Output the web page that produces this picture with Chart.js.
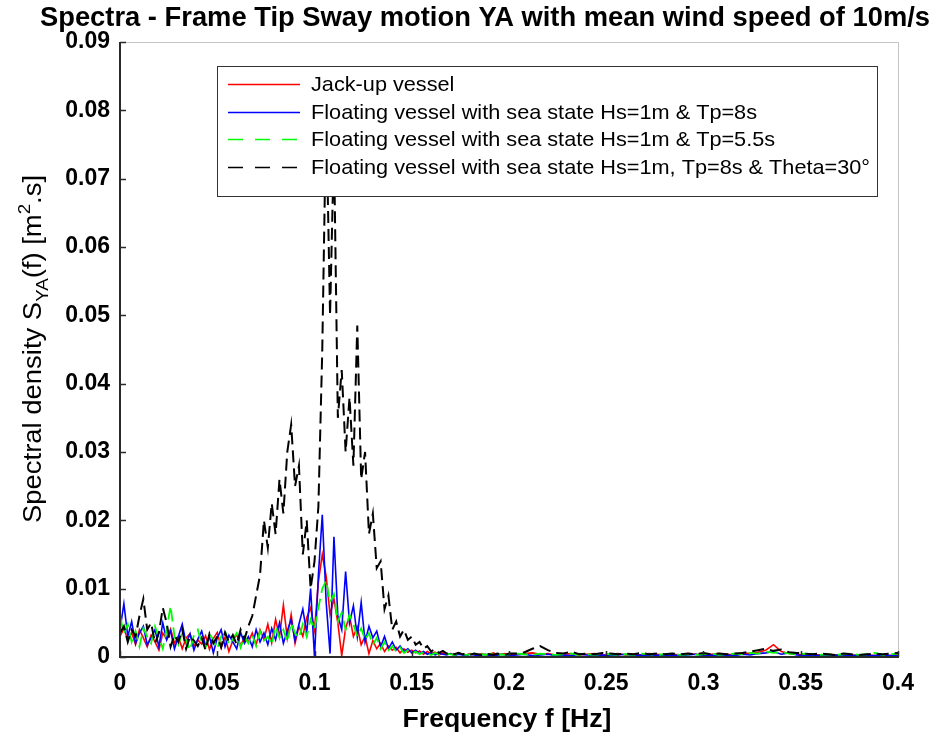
<!DOCTYPE html>
<html><head><meta charset="utf-8">
<script src="https://cdn.jsdelivr.net/npm/chart.js@4/dist/chart.umd.min.js"></script>
<style>html,body{margin:0;padding:0;background:#fff;}canvas{display:block;}</style>
</head><body>
<canvas id="c" width="934" height="740"></canvas>
<script>
const TITLE = "Spectra - Frame Tip Sway motion YA with mean wind speed of 10m/s";
const X_TITLE = "Frequency f [Hz]";
const SERIES_LABELS = [
  "Jack-up vessel",
  "Floating vessel with sea state Hs=1m & Tp=8s",
  "Floating vessel with sea state Hs=1m & Tp=5.5s",
  "Floating vessel with sea state Hs=1m, Tp=8s & Theta=30\u00B0"
];
const X_TICKS = [0,0.05,0.1,0.15,0.2,0.25,0.3,0.35,0.4];
const X_TICK_LABELS = ["0","0.05","0.1","0.15","0.2","0.25","0.3","0.35","0.4"];
const Y_TICKS = [0,0.01,0.02,0.03,0.04,0.05,0.06,0.07,0.08,0.09];
const Y_TICK_LABELS = ["0","0.01","0.02","0.03","0.04","0.05","0.06","0.07","0.08","0.09"];

const FREQ = [
0,0.002,0.004,0.006,0.008,0.010,0.012,0.014,0.016,0.018,
0.020,0.022,0.024,0.026,0.028,0.030,0.032,0.034,0.036,0.038,
0.040,0.042,0.044,0.046,0.048,0.050,0.052,0.054,0.056,0.058,
0.060,0.062,0.064,0.066,0.068,0.070,0.072,0.074,0.076,0.078,
0.080,0.082,0.084,0.086,0.088,0.090,0.092,0.094,0.096,0.098,
0.100,0.102,0.104,0.106,0.108,0.110,0.112,0.114,0.116,0.118,
0.120,0.122,0.124,0.126,0.128,0.130,0.132,0.134,0.136,0.138,
0.140,0.142,0.144,0.146,0.148,0.150,0.152,0.154,0.156,0.158,
0.160,0.162,0.164,0.166,0.168,0.170,0.172,0.174,0.176,0.178,
0.180,0.182,0.184,0.186,0.188,0.190,0.192,0.194,0.196,0.198,
0.200,
0.204,0.208,0.212,0.216,0.220,0.224,0.228,0.232,0.236,0.240,
0.244,0.248,0.252,0.256,0.260,0.264,0.268,0.272,0.276,0.280,
0.284,0.288,0.292,0.296,0.300,0.304,0.308,0.312,0.316,0.320,
0.324,0.328,0.332,0.336,0.340,0.344,0.348,0.352,0.356,0.360,
0.364,0.368,0.372,0.376,0.380,0.384,0.388,0.392,0.396,0.400
];

const JACKUP = [
0.0030,0.0042,0.0025,0.0036,0.0018,0.0040,0.0028,0.0015,0.0032,0.0022,
0.0010,0.0035,0.0026,0.0041,0.0020,0.0030,0.0012,0.0028,0.0034,0.0016,
0.0025,0.0019,0.0031,0.0011,0.0027,0.0036,0.0014,0.0029,0.0008,0.0024,
0.0033,0.0017,0.0028,
0.0022,0.0035,0.0018,0.0040,0.0026,0.0048,0.0021,0.0055,0.0030,0.0076,
0.0028,0.0062,0.0020,0.0045,0.0030,0.0058,0.0072,0.0040,0.0110,0.0150,
0.0118,0.0062,0.0085,0.0050,0.0002,0.0042,0.0060,0.0030,0.0044,0.0018,
0.0030,0.0005,0.0024,0.0012,0.0020,0.0008,0.0016,0.0010,0.0014,0.0006,
0.0012,0.0007,0.0010,
0.0006,0.0009,0.0004,0.0008,0.0005,0.0007,0.0003,0.0006,0.0004,0.0005,
0.0003,0.0006,0.0004,0.0003,0.0005,0.0004,0.0003,0.0005,0.0003,0.0004,
0.0006,0.0003,0.0004,0.0005,0.0003,
0.0004,0.0005,0.0006,0.0004,0.0005,0.0003,0.0004,0.0005,0.0003,0.0004,
0.0005,0.0003,0.0004,0.0005,0.0003,0.0004,0.0003,0.0005,0.0004,0.0003,
0.0004,0.0003,0.0005,0.0004,0.0003,0.0004,0.0005,0.0004,0.0003,0.0006,
0.0005,0.0007,0.0010,0.0018,0.0008,0.0005,0.0004,0.0003,0.0004,0.0003,
0.0004,0.0003,0.0002,0.0003,0.0002,0.0003,0.0002,0.0003,0.0002,0.0003
];

const FLOAT_TP8 = [
0.0040,0.0078,0.0030,0.0052,0.0020,0.0035,0.0045,0.0018,0.0028,0.0040,
0.0015,0.0050,0.0025,0.0038,0.0012,0.0030,0.0048,0.0020,0.0034,0.0010,
0.0026,0.0038,0.0016,0.0030,0.0006,0.0028,0.0040,0.0015,0.0032,0.0022,
0.0012,0.0036,0.0020,
0.0030,0.0015,0.0040,0.0022,0.0035,0.0018,0.0042,0.0025,0.0050,0.0020,
0.0038,0.0055,0.0024,0.0048,0.0070,0.0035,0.0100,0.0000,0.0120,0.0208,
0.0080,0.0005,0.0176,0.0060,0.0040,0.0125,0.0050,0.0075,0.0030,0.0080,
0.0022,0.0045,0.0028,0.0038,0.0015,0.0030,0.0012,0.0022,0.0010,0.0016,
0.0008,0.0012,0.0006,
0.0010,0.0005,0.0008,0.0004,0.0006,0.0003,0.0005,0.0004,0.0003,0.0005,
0.0002,0.0004,0.0003,0.0002,0.0004,0.0003,0.0002,0.0003,0.0004,0.0002,
0.0003,0.0002,0.0004,0.0003,0.0002,
0.0003,0.0004,0.0002,0.0003,0.0004,0.0002,0.0003,0.0002,0.0004,0.0003,
0.0002,0.0003,0.0002,0.0003,0.0004,0.0002,0.0003,0.0002,0.0003,0.0002,
0.0003,0.0002,0.0003,0.0004,0.0002,0.0003,0.0002,0.0003,0.0002,0.0004,
0.0003,0.0005,0.0006,0.0008,0.0004,0.0006,0.0003,0.0002,0.0003,0.0002,
0.0002,0.0003,0.0002,0.0002,0.0003,0.0002,0.0002,0.0003,0.0002,0.0002
];

const FLOAT_TP55 = [
0.0060,0.0035,0.0048,0.0022,0.0038,0.0015,0.0042,0.0030,0.0020,0.0045,
0.0028,0.0012,0.0040,0.0075,0.0030,0.0018,0.0036,0.0024,0.0010,0.0032,
0.0040,0.0020,0.0014,0.0034,0.0025,0.0012,0.0030,0.0038,0.0018,0.0026,
0.0035,0.0014,0.0030,
0.0020,0.0032,0.0016,0.0038,0.0024,0.0030,0.0018,0.0045,0.0028,0.0040,
0.0022,0.0050,0.0035,0.0028,0.0048,0.0030,0.0055,0.0040,0.0072,0.0100,
0.0112,0.0080,0.0092,0.0052,0.0065,0.0040,0.0062,0.0048,0.0030,0.0042,
0.0025,0.0035,0.0018,0.0028,0.0012,0.0022,0.0010,0.0016,0.0008,0.0014,
0.0006,0.0010,0.0005,
0.0008,0.0004,0.0007,0.0005,0.0003,0.0006,0.0004,0.0003,0.0005,0.0004,
0.0003,0.0005,0.0004,0.0003,0.0004,0.0005,0.0003,0.0004,0.0003,0.0005,
0.0004,0.0003,0.0004,0.0003,0.0004,
0.0005,0.0004,0.0003,0.0005,0.0004,0.0003,0.0004,0.0005,0.0003,0.0004,
0.0003,0.0005,0.0004,0.0003,0.0004,0.0003,0.0005,0.0004,0.0003,0.0004,
0.0005,0.0003,0.0004,0.0003,0.0004,0.0005,0.0003,0.0004,0.0005,0.0004,
0.0006,0.0005,0.0008,0.0006,0.0007,0.0005,0.0004,0.0005,0.0004,0.0003,
0.0004,0.0003,0.0004,0.0005,0.0003,0.0004,0.0006,0.0003,0.0004,0.0005
];

const FLOAT_THETA30 = [
0.0035,0.0045,0.0022,0.0040,0.0030,0.0060,0.0085,0.0040,0.0050,0.0020,
0.0035,0.0072,0.0050,0.0015,0.0032,0.0022,0.0040,0.0012,0.0030,0.0024,
0.0016,0.0028,0.0010,0.0034,0.0020,0.0030,0.0014,0.0036,0.0022,0.0032,
0.0018,0.0040,0.0026,
0.0045,0.0060,0.0090,0.0120,0.0200,0.0160,0.0225,0.0180,0.0260,0.0210,
0.0300,0.0340,0.0250,0.0280,0.0150,0.0200,0.0100,0.0140,0.0220,0.0450,
0.0800,0.0500,0.0750,0.0350,0.0420,0.0300,0.0380,0.0280,0.0485,0.0260,
0.0300,0.0180,0.0210,0.0130,0.0140,0.0070,0.0090,0.0040,0.0052,0.0030,
0.0040,0.0025,0.0030,
0.0018,0.0022,0.0012,0.0016,0.0008,0.0012,0.0006,0.0009,0.0005,0.0007,
0.0004,0.0006,0.0004,0.0005,0.0003,0.0005,0.0004,0.0003,0.0005,0.0004,
0.0003,0.0005,0.0004,0.0003,0.0005,
0.0005,0.0007,0.0012,0.0016,0.0010,0.0006,0.0005,0.0008,0.0004,0.0005,
0.0004,0.0006,0.0005,0.0004,0.0005,0.0004,0.0006,0.0004,0.0005,0.0004,
0.0005,0.0004,0.0005,0.0004,0.0006,0.0004,0.0005,0.0004,0.0005,0.0006,
0.0008,0.0010,0.0012,0.0009,0.0011,0.0007,0.0006,0.0005,0.0004,0.0005,
0.0004,0.0003,0.0005,0.0004,0.0003,0.0004,0.0005,0.0004,0.0005,0.0006
];

const FONT = "'Liberation Sans', Arial, Helvetica, sans-serif";
const COLORS = ["#ff0000", "#0000ff", "#00ff00", "#000000"];
const WIDTHS = [1.6, 1.6, 1.8, 2];
const DASHES = [[], [], [12, 6], [12, 6]];
const LEGEND_DASHES = [[], [], [15, 12], [15, 12]];
const SERIES = [JACKUP, FLOAT_TP8, FLOAT_TP55, FLOAT_THETA30];

const toPoints = arr => FREQ.map((f, i) => ({x: f, y: arr[i]}));

function fitText(ctx, text, x, y, width, align) {
  const w = ctx.measureText(text).width;
  const s = width / w;
  ctx.save();
  ctx.translate(x, y);
  ctx.scale(s, 1);
  ctx.textAlign = align;
  ctx.fillText(text, 0, 0);
  ctx.restore();
}

const framePlugin = {
  id: 'frame',
  afterDatasetsDraw(chart) {
    const ctx = chart.ctx;
    const {left, right, top, bottom} = chart.chartArea;
    const xs = chart.scales.x, ys = chart.scales.y;
    ctx.save();
    ctx.setLineDash([]);
    ctx.strokeStyle = '#c4c4c4';
    ctx.lineWidth = 1;
    ctx.beginPath();
    ctx.moveTo(left, top + 0.5);
    ctx.lineTo(right + 0.5, top + 0.5);
    ctx.lineTo(right + 0.5, bottom);
    ctx.stroke();
    ctx.strokeStyle = '#2a2a2a';
    ctx.lineWidth = 2;
    ctx.beginPath();
    ctx.moveTo(left, top);
    ctx.lineTo(left, bottom);
    ctx.lineTo(right + 1, bottom);
    ctx.stroke();
    ctx.lineWidth = 1.5;
    ctx.beginPath();
    Y_TICKS.forEach(v => {
      const p = Math.round(ys.getPixelForValue(v)) + 0.5;
      ctx.moveTo(left, p); ctx.lineTo(left + 6, p);
    });
    X_TICKS.forEach(v => {
      const p = Math.round(xs.getPixelForValue(v)) + 0.5;
      ctx.moveTo(p, bottom); ctx.lineTo(p, bottom - 6);
    });
    ctx.stroke();
    ctx.restore();
  },
  afterDraw(chart) {
    const ctx = chart.ctx;
    const {left, right, top, bottom} = chart.chartArea;
    ctx.save();
    ctx.fillStyle = '#000';
    ctx.textBaseline = 'alphabetic';
    // Title
    ctx.font = "bold 27px " + FONT;
    fitText(ctx, TITLE, 485, 26, 890, 'center');
    // X axis title
    ctx.font = "bold 26px " + FONT;
    fitText(ctx, X_TITLE, (left + right) / 2 - 2, 727, 209, 'center');

    // Y axis title with sub/superscripts
    const parts = [
      {t: "Spectral density S", f: "25px " + FONT, dy: 0},
      {t: "YA", f: "17px " + FONT, dy: 7},
      {t: "(f) [m", f: "25px " + FONT, dy: 0},
      {t: "2", f: "17px " + FONT, dy: -11},
      {t: ".s]", f: "25px " + FONT, dy: 0}
    ];
    let total = 0;
    parts.forEach(p => { ctx.font = p.f; p.w = ctx.measureText(p.t).width; total += p.w; });
    const sc = 348 / total;
    ctx.save();
    ctx.translate(41, 523);
    ctx.rotate(-Math.PI / 2);
    ctx.scale(sc, 1);
    ctx.textAlign = 'left';
    let cx = 0;
    parts.forEach(p => { ctx.font = p.f; ctx.fillText(p.t, cx, p.dy); cx += p.w; });
    ctx.restore();

    // Legend
    const bx = 217, by = 66, bw = 660, bh = 130;
    ctx.fillStyle = '#fff';
    ctx.fillRect(bx, by, bw, bh);
    ctx.strokeStyle = '#333';
    ctx.lineWidth = 1;
    ctx.strokeRect(bx + 0.5, by + 0.5, bw, bh);
    ctx.font = "21px " + FONT;
    const longest = ctx.measureText(SERIES_LABELS[3]).width;
    const ls = 559 / longest;
    SERIES_LABELS.forEach((lab, i) => {
      const yy = by + 18 + i * 27.5;
      ctx.save();
      ctx.strokeStyle = COLORS[i];
      ctx.lineWidth = 1.5;
      ctx.setLineDash(LEGEND_DASHES[i]);
      ctx.beginPath();
      ctx.moveTo(bx + 11, Math.round(yy) + 0.5);
      ctx.lineTo(bx + 83, Math.round(yy) + 0.5);
      ctx.stroke();
      ctx.restore();
      ctx.save();
      ctx.fillStyle = '#000';
      ctx.translate(bx + 94, yy + 7);
      ctx.scale(ls, 1);
      ctx.textAlign = 'left';
      ctx.fillText(lab, 0, 0);
      ctx.restore();
    });
    ctx.restore();
  }
};

const datasets = SERIES.map((arr, i) => ({
  label: SERIES_LABELS[i],
  data: toPoints(arr),
  borderColor: COLORS[i],
  backgroundColor: COLORS[i],
  borderWidth: WIDTHS[i],
  borderDash: DASHES[i],
  pointRadius: 0,
  tension: 0,
  fill: false,
  order: 4 - i
}));

new Chart(document.getElementById('c').getContext('2d'), {
  type: 'line',
  data: {datasets},
  options: {
    responsive: false,
    animation: false,
    devicePixelRatio: 1,
    layout: {padding: {top: 42, right: 36, left: 0, bottom: 0}},
    plugins: {legend: {display: false}, title: {display: false}, tooltip: {enabled: false}},
    scales: {
      x: {
        type: 'linear', min: 0, max: 0.4,
        grid: {display: false, drawTicks: false},
        border: {display: false},
        afterBuildTicks: s => { s.ticks = X_TICKS.map(v => ({value: v})); },
        afterFit: s => { s.height = 83; },
        ticks: {autoSkip: false, maxRotation: 0, padding: 13, color: '#000',
          font: {family: FONT, weight: 'bold', size: 23},
          callback: (v, i) => X_TICK_LABELS[i]}
      },
      y: {
        type: 'linear', min: 0, max: 0.09,
        grid: {display: false, drawTicks: false},
        border: {display: false},
        afterBuildTicks: s => { s.ticks = Y_TICKS.map(v => ({value: v})); },
        afterFit: s => { s.width = 120; },
        ticks: {autoSkip: false, padding: 10, color: '#000',
          font: {family: FONT, weight: 'bold', size: 23},
          callback: (v, i) => Y_TICK_LABELS[i]}
      }
    }
  },
  plugins: [framePlugin]
});
</script>
</body></html>
